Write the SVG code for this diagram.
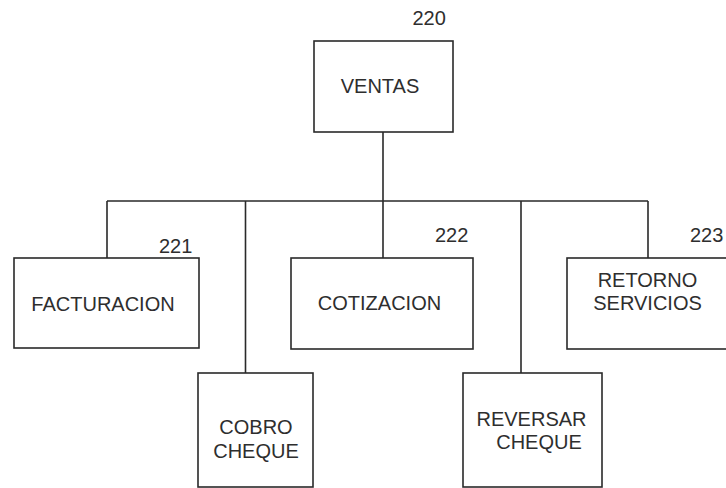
<svg xmlns="http://www.w3.org/2000/svg" width="726" height="488" viewBox="0 0 726 488">
<style>
.box{fill:#fff;stroke:#2a2a2a;stroke-width:1.6}
.ln{fill:none;stroke:#2a2a2a;stroke-width:1.6}
text{font-family:"Liberation Sans",Arial,sans-serif;font-size:20px;fill:#2e2e2e}
.c{text-anchor:middle}
</style>
<rect width="726" height="488" fill="#fff"/>
<g id="connectors">
<path class="ln" d="M383 132V201M107 201H648M107 201V258M245.5 201V373M383 201V258M521 201V373M648 201V258"/>
</g>
<g id="ventas">
<rect class="box" x="314" y="41" width="139" height="91"/>
<text class="c" x="380" y="93">VENTAS</text>
<text x="412.5" y="25">220</text>
</g>
<g id="facturacion">
<rect class="box" x="14" y="258" width="185" height="90"/>
<text class="c" x="103" y="311">FACTURACION</text>
<text x="159" y="253">221</text>
</g>
<g id="cotizacion">
<rect class="box" x="291" y="258" width="182" height="91"/>
<text class="c" x="379.5" y="310">COTIZACION</text>
<text x="435" y="242">222</text>
</g>
<g id="retorno">
<rect class="box" x="567" y="258" width="170" height="91"/>
<text class="c" x="647.5" y="287">RETORNO</text>
<text class="c" x="647.5" y="310">SERVICIOS</text>
<text x="690" y="242">223</text>
</g>
<g id="cobro">
<rect class="box" x="198" y="373" width="115" height="114"/>
<text class="c" x="256" y="434">COBRO</text>
<text class="c" x="256" y="458">CHEQUE</text>
</g>
<g id="reversar">
<rect class="box" x="463" y="373" width="139" height="114"/>
<text class="c" x="531.5" y="426">REVERSAR</text>
<text class="c" x="539" y="449">CHEQUE</text>
</g>
</svg>
